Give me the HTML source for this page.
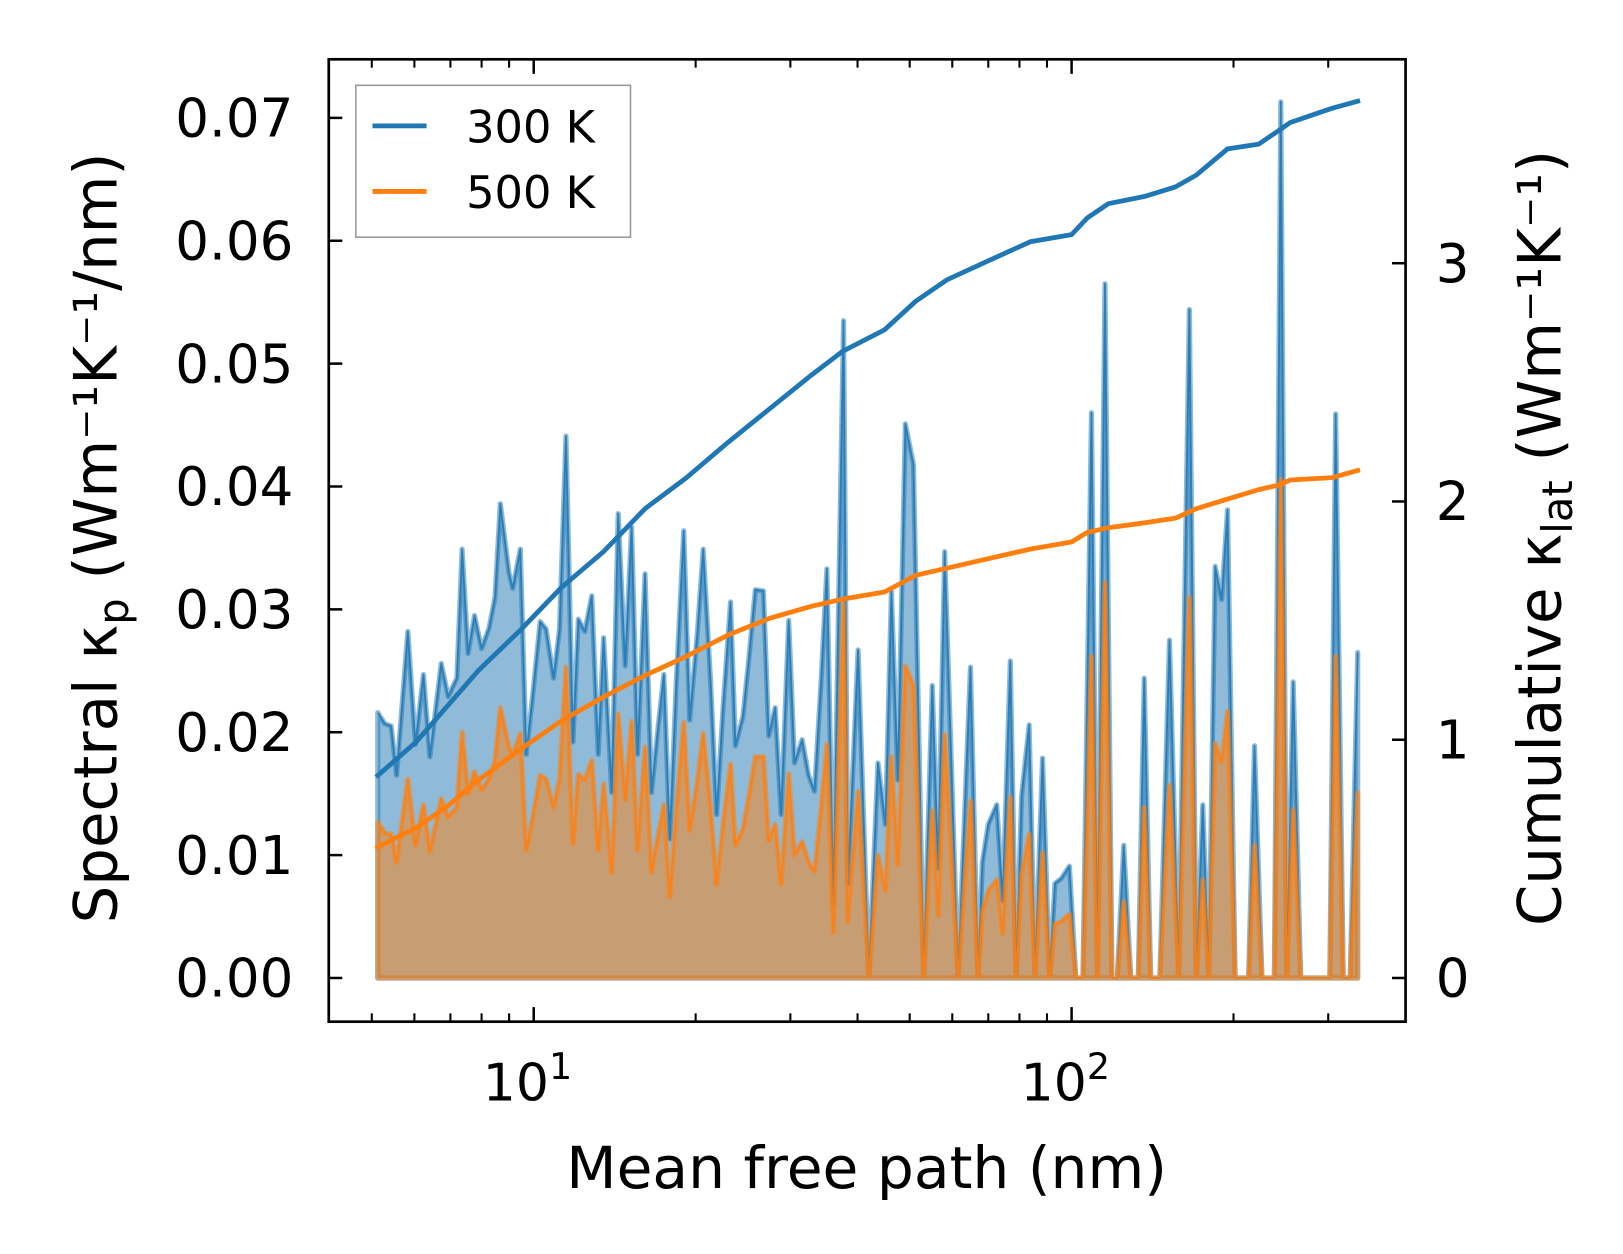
<!DOCTYPE html>
<html><head><meta charset="utf-8"><style>
html,body{margin:0;padding:0;background:#fff;}
svg{display:block;font-family:"DejaVu Sans","Liberation Sans",sans-serif;}
</style></head><body>
<svg id="chart" width="1623" height="1254" viewBox="0 0 1560 1205.3" preserveAspectRatio="none" xmlns="http://www.w3.org/2000/svg">
<rect x="0" y="0" width="1560" height="1206" fill="#fff"/>
<g id="plot"></g>
<g id="axes"></g>
<text x="833" y="1142" text-anchor="middle" font-size="56" fill="#000">Mean free path (nm)</text>
<text transform="translate(112,517) rotate(-90)" text-anchor="middle" font-size="57" fill="#000">Spectral κ<tspan font-size="40" dy="11">p</tspan><tspan dy="-11"> (Wm⁻¹K⁻¹/nm)</tspan></text>
<text transform="translate(1500,517) rotate(-90)" text-anchor="middle" font-size="57" fill="#000">Cumulative κ<tspan font-size="40" dy="11">lat</tspan><tspan dy="-11"> (Wm⁻¹K⁻¹)</tspan></text>
</svg>
<script>
// log10 of mean free path (nm) for each spectral bin
const logMfp = [0.710,0.723,0.735,0.745,0.766,0.780,0.795,0.807,0.828,0.841,0.857,0.867,0.878,0.890,0.903,0.917,0.928,0.938,0.954,0.961,0.975,0.986,0.998,1.012,1.023,1.037,1.048,1.060,1.073,1.083,1.095,1.108,1.120,1.130,1.145,1.157,1.170,1.182,1.193,1.207,1.219,1.232,1.242,1.253,1.265,1.279,1.290,1.304,1.315,1.329,1.340,1.352,1.366,1.375,1.389,1.400,1.412,1.427,1.437,1.449,1.460,1.474,1.485,1.499,1.511,1.522,1.534,1.545,1.557,1.576,1.584,1.603,1.623,1.640,1.654,1.665,1.677,1.691,1.706,1.725,1.741,1.752,1.764,1.789,1.812,1.826,1.834,1.845,1.861,1.872,1.886,1.897,1.907,1.921,1.932,1.946,1.959,1.969,1.981,1.996,2.008,2.021,2.037,2.048,2.062,2.075,2.085,2.097,2.110,2.124,2.135,2.147,2.164,2.182,2.199,2.219,2.232,2.244,2.255,2.267,2.279,2.290,2.304,2.319,2.329,2.340,2.354,2.366,2.377,2.389,2.400,2.412,2.426,2.455,2.480,2.491,2.505,2.518,2.532];
// spectral kappa, units of 1e-3 W m^-1 K^-1 / nm
const kappa300 = [21.6,20.7,20.5,16.5,28.2,19.0,24.7,18.0,25.6,22.9,24.4,34.9,26.4,29.5,26.8,28.5,31.0,38.6,33.0,31.7,34.9,18.2,23.0,29.0,28.4,24.4,28.4,44.1,19.2,29.2,28.2,31.1,18.2,27.7,15.1,37.8,25.4,36.7,18.2,32.9,15.1,20.7,24.7,11.3,24.0,36.4,21.0,28.0,34.9,24.0,13.3,22.0,30.6,18.9,21.3,26.0,31.6,31.5,19.7,22.0,13.3,29.1,17.5,19.4,16.5,15.2,24.0,33.3,6.0,53.5,7.6,26.7,0,17.5,12.5,31.5,16.1,45.1,41.8,0,23.8,8.9,34.7,0,25.3,0,9.4,12.5,14.1,6.3,25.8,0,14.8,20.6,0,17.9,0,7.7,8.1,9.1,0,0,46.0,0,56.5,0,0,10.8,0,0,24.4,0,0,27.5,0,54.4,0,14.1,0,33.5,30.8,38.1,0,0,0,18.9,0,0,0,71.3,0,24.1,0,0,0,45.9,0,0,26.5];
const kappa500 = [12.7,11.8,11.7,9.4,16.2,10.8,14.1,10.3,14.6,13.1,13.9,20.0,15.0,16.8,15.3,16.2,17.7,22.0,18.8,18.1,19.9,10.4,13.1,16.5,16.2,13.9,16.2,25.3,10.9,16.6,16.1,17.7,10.4,15.8,8.6,21.5,14.5,20.9,10.4,18.8,8.6,11.8,14.1,6.6,13.7,20.8,12.0,16.0,19.9,13.7,7.6,12.5,17.4,10.8,12.1,14.8,18.0,18.0,11.2,12.5,7.6,16.6,10.0,11.1,9.4,8.7,13.7,19.0,3.7,30.5,4.6,15.2,0,10.0,7.1,18.0,9.2,25.4,23.8,0,13.6,5.1,19.8,0,14.4,0,5.4,7.1,8.0,3.6,14.7,0,8.4,11.7,0,10.2,0,4.4,4.6,5.2,0,0,26.2,0,32.2,0,0,6.2,0,0,13.9,0,0,15.7,0,31.0,0,8.0,0,19.1,17.6,21.7,0,0,0,10.8,0,0,0,40.6,0,13.7,0,0,0,26.2,0,0,15.1];
// cumulative kappa (W m^-1 K^-1)
const cumLogMfp = [0.710,0.781,0.839,0.897,0.975,1.052,1.130,1.207,1.284,1.362,1.439,1.516,1.574,1.652,1.710,1.768,1.845,1.923,2.000,2.029,2.068,2.135,2.193,2.232,2.290,2.348,2.387,2.406,2.484,2.532];
const cum300 = [0.85,0.99,1.14,1.29,1.46,1.64,1.79,1.97,2.10,2.25,2.39,2.53,2.63,2.72,2.84,2.93,3.01,3.09,3.12,3.19,3.25,3.28,3.32,3.37,3.48,3.50,3.56,3.59,3.65,3.68];
const cum500 = [0.55,0.63,0.72,0.83,0.96,1.08,1.18,1.27,1.35,1.44,1.51,1.56,1.59,1.62,1.69,1.72,1.76,1.80,1.83,1.87,1.89,1.91,1.93,1.97,2.01,2.05,2.07,2.09,2.10,2.13];
const leftTicks = ["0.00","0.01","0.02","0.03","0.04","0.05","0.06","0.07"];
const rightTicks = [0,1,2,3];
const seriesNames = ["300 K","500 K"];

const NS="http://www.w3.org/2000/svg";
const X0=316,X1=1351,Y0=57,Y1=982;
const xS = l => 513 + 517*(l-1);
const yL = m => 940 - 11.81*m;         // m in 1e-3 units
const yR = v => 940 - 229*v;
function mk(tag, attrs, parent){const e=document.createElementNS(NS,tag);for(const k in attrs)e.setAttribute(k,attrs[k]);parent.appendChild(e);return e;}
const plot=document.getElementById('plot'), axes=document.getElementById('axes');

function drawSpectral(vals,color,name){
  let pts=logMfp.map((l,i)=>xS(l).toFixed(1)+','+yL(vals[i]).toFixed(1));
  let fill='M'+xS(logMfp[0]).toFixed(1)+','+yL(0)+' L'+pts.join(' L')+' L'+xS(logMfp[logMfp.length-1]).toFixed(1)+','+yL(0)+' Z';
  const f=mk('path',{d:fill,fill:color,'fill-opacity':0.5,stroke:color,'stroke-opacity':0.5,'stroke-width':5,'stroke-linejoin':'round'},plot);
  
  
  const l=mk('polyline',{points:pts.join(' '),fill:'none',stroke:color,'stroke-width':1.8,'stroke-linejoin':'round','stroke-opacity':0.85},plot);
  
  
}
drawSpectral(kappa300,'#1f77b4','k300');
drawSpectral(kappa500,'#ff7f0e','k500');

function drawCum(vals,color,name){
  const pts=cumLogMfp.map((l,i)=>xS(l).toFixed(1)+','+yR(vals[i]).toFixed(1)).join(' ');
  const l=mk('polyline',{points:pts,fill:'none',stroke:color,'stroke-width':4.6,'stroke-linejoin':'round','stroke-linecap':'square'},plot);
  
  
}
drawCum(cum300,'#1f77b4','k300');
drawCum(cum500,'#ff7f0e','k500');

const fr=mk('rect',{x:X0,y:Y0,width:X1-X0,height:Y1-Y0,fill:'none',stroke:'#000','stroke-width':2.6},axes);



leftTicks.forEach((t,i)=>{
  const y=yL(i*10);
  mk('line',{x1:X0,x2:X0+13,y1:y,y2:y,stroke:'#000','stroke-width':2.4},axes);
  const tx=mk('text',{x:282,y:y+18,'text-anchor':'end','font-size':51,fill:'#000'},axes);
  tx.textContent=t;
  
  
});
rightTicks.forEach(v=>{
  const y=yR(v);
  mk('line',{x1:X1-13,x2:X1,y1:y,y2:y,stroke:'#000','stroke-width':2.4},axes);
  const tx=mk('text',{x:1380,y:y+18,'font-size':51,fill:'#000'},axes);
  tx.textContent=String(v);
  
  
});
const minors=[5,6,7,8,9,20,30,40,50,60,70,80,90,200,300];
minors.forEach(v=>{const x=xS(Math.log10(v));
  mk('line',{x1:x,x2:x,y1:Y1,y2:Y1-8,stroke:'#000','stroke-width':2},axes);
  mk('line',{x1:x,x2:x,y1:Y0,y2:Y0+8,stroke:'#000','stroke-width':2},axes);});
[1,2].forEach(p=>{const x=xS(p);
  mk('line',{x1:x,x2:x,y1:Y1,y2:Y1-14,stroke:'#000','stroke-width':2.4},axes);
  mk('line',{x1:x,x2:x,y1:Y0,y2:Y0+14,stroke:'#000','stroke-width':2.4},axes);
  const tx=mk('text',{x:x-6,y:1058,'text-anchor':'middle','font-size':50,fill:'#000'},axes);
  
  
  tx.textContent='10';
  const s=mk('tspan',{dy:-21,'font-size':35},tx); s.textContent=String(p);
});

(function(){
  const svg=document.getElementById('chart');
  const g=document.createElementNS(NS,'g');
  
  
  svg.appendChild(g);
  const box=document.createElementNS(NS,'rect');
  box.setAttribute('x',342);box.setAttribute('y',82);box.setAttribute('width',264);box.setAttribute('height',146);
  box.setAttribute('fill','#fff');box.setAttribute('fill-opacity','0.8');box.setAttribute('stroke','#999');box.setAttribute('stroke-width','1.5');
  
  
  g.appendChild(box);
  const cols=['#1f77b4','#ff7f0e'];
  seriesNames.forEach((n,i)=>{
    const y=121+i*63;
    const l=document.createElementNS(NS,'line');
    l.setAttribute('x1',358);l.setAttribute('x2',410);l.setAttribute('y1',y);l.setAttribute('y2',y);
    l.setAttribute('stroke',cols[i]);l.setAttribute('stroke-width',4.6);
    
    
    g.appendChild(l);
    const t=document.createElementNS(NS,'text');
    t.setAttribute('x',448);t.setAttribute('y',y+16);t.setAttribute('font-size',43);
    t.textContent=n;
    
    
    g.appendChild(t);
  });
})();
</script>
</body></html>
